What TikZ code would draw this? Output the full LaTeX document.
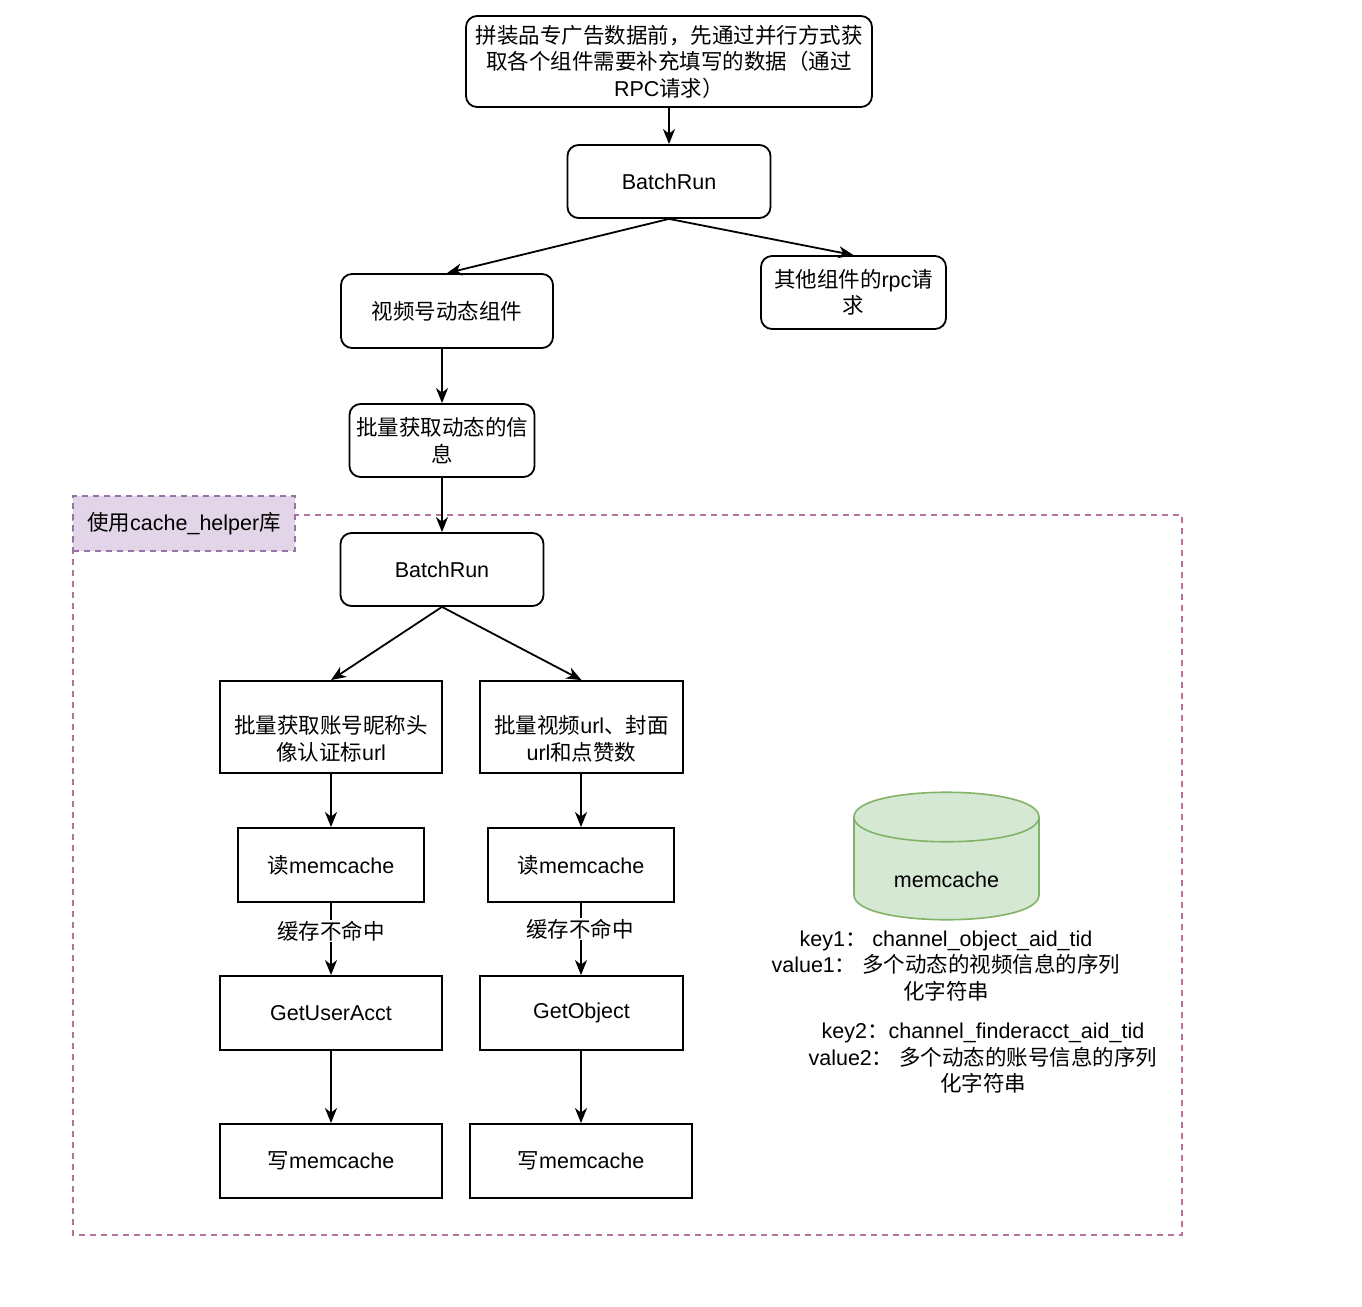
\documentclass[tikz,border=0pt]{standalone}
\usepackage{fontspec}
\setmainfont{Liberation Sans}
\newfontfamily\cjk{Noto Sans CJK SC}
\newcommand\zh[1]{{\cjk #1}}
\usetikzlibrary{arrows.meta,calc}

\definecolor{groupline}{HTML}{B5739D}
\definecolor{tagfill}{HTML}{E1D5E7}
\definecolor{tagline}{HTML}{9673A6}
\definecolor{dbfill}{HTML}{D5E8D4}
\definecolor{dbline}{HTML}{82B366}

\tikzset{
  txt/.style={font=\fontsize{21.5}{26.5}\selectfont, align=center},
  box/.style={txt, draw=black, line width=1.8pt, fill=white, inner sep=2pt},
  rbox/.style={box, rounded corners=11pt},
  flow/.style={line width=1.8pt, -{Stealth[length=15pt,width=12pt,inset=4.5pt]}},
  miss/.style={txt, fill=white, inner sep=1pt},
  lowtext/.style={label={[txt,yshift=-12pt]center:{#1}}}
}

\begin{document}
\begin{tikzpicture}[x=1pt, y=-1pt]
\useasboundingbox (0,0) rectangle (1362,1306);

% group frame for the cache_helper part
\draw[groupline, line width=1.6pt, dash pattern=on 6pt off 5pt] (73,515) rectangle (1182,1235);
\node[txt, fill=tagfill, draw=tagline, line width=1.6pt, dash pattern=on 6pt off 5pt,
      minimum width=222pt, minimum height=55pt] (tag) at (184,523.5)
  {\zh{使用}cache\_helper\zh{库}};

% upper flow
\node[rbox, minimum width=406pt, minimum height=91pt] (top) at (669,61.5)
  {\zh{拼装品专广告数据前，先通过并行方式获}\\\zh{取各个组件需要补充填写的数据（通过}\\RPC\zh{请求）}};
\node[rbox, minimum width=203pt, minimum height=73pt] (br1) at (669,181.5) {BatchRun};
\node[rbox, minimum width=212pt, minimum height=74pt] (vid) at (447,311) {\zh{视频号动态组件}};
\node[rbox, minimum width=185pt, minimum height=73pt] (other) at (853.5,292.5) {\zh{其他组件的}rpc\zh{请}\\\zh{求}};
\node[rbox, minimum width=185pt, minimum height=73pt] (fetch) at (442,440.5) {\zh{批量获取动态的信}\\\zh{息}};
\node[rbox, minimum width=203pt, minimum height=73pt] (br2) at (442,569.5) {BatchRun};

% two parallel branches
\node[box, minimum width=222pt, minimum height=92pt,
      lowtext={\zh{批量获取账号昵称头}\\\zh{像认证标}url}] (boxA) at (331,727) {};
\node[box, minimum width=203pt, minimum height=92pt,
      lowtext={\zh{批量视频}url\zh{、封面}\\url\zh{和点赞数}}] (boxB) at (581.5,727) {};
\node[box, minimum width=186pt, minimum height=74pt] (rdA) at (331,865) {\zh{读}memcache};
\node[box, minimum width=186pt, minimum height=74pt] (rdB) at (581,865) {\zh{读}memcache};
\node[box, minimum width=222pt, minimum height=74pt] (getA) at (331,1013) {GetUserAcct};
\node[box, minimum width=203pt, minimum height=74pt] (getB) at (581.5,1013) {GetObject};
\node[box, minimum width=222pt, minimum height=74pt] (wrA) at (331,1161) {\zh{写}memcache};
\node[box, minimum width=222pt, minimum height=74pt] (wrB) at (581,1161) {\zh{写}memcache};

% connectors
\draw[flow] (top.south) -- (br1.north);
\draw[flow] (br1.south) -- (vid.north);
\draw[flow] (br1.south) -- (other.north);
\draw[flow] (fetch.north |- vid.south) -- (fetch.north);
\draw[flow] (fetch.south) -- (br2.north);
\draw[flow] (br2.south) -- (boxA.north);
\draw[flow] (br2.south) -- (boxB.north);
\draw[flow] (boxA.south) -- (rdA.north);
\draw[flow] (boxB.south -| rdB.north) -- (rdB.north);
\draw[flow] (rdA.south) -- (getA.north);
\draw[flow] (rdB.south) -- (getB.north -| rdB.south);
\draw[flow] (getA.south) -- (wrA.north);
\draw[flow] (getB.south -| wrB.north) -- (wrB.north);

\node[miss] (missA) at (331,931) {\zh{缓存不命中}};
\node[miss] (missB) at (580,929) {\zh{缓存不命中}};

% memcache store
\filldraw[fill=dbfill, draw=dbline, line width=1.6pt]
  (854,817) .. controls (854,784) and (1039,784) .. (1039,817)
  -- (1039,895) .. controls (1039,928) and (854,928) .. (854,895) -- cycle;
\draw[dbline, line width=1.6pt] (854,817) .. controls (854,850) and (1039,850) .. (1039,817);
\node[txt] (mc) at (946.5,880) {memcache};

% key / value notes
\node[txt] (kv1) at (946,966)
  {key1\zh{：} channel\_object\_aid\_tid\\value1\zh{：} \zh{多个动态的视频信息的序列}\\\zh{化字符串}};
\node[txt] (kv2) at (983,1058.5)
  {key2\zh{：}channel\_finderacct\_aid\_tid\\value2\zh{：} \zh{多个动态的账号信息的序列}\\\zh{化字符串}};
\end{tikzpicture}
\end{document}
